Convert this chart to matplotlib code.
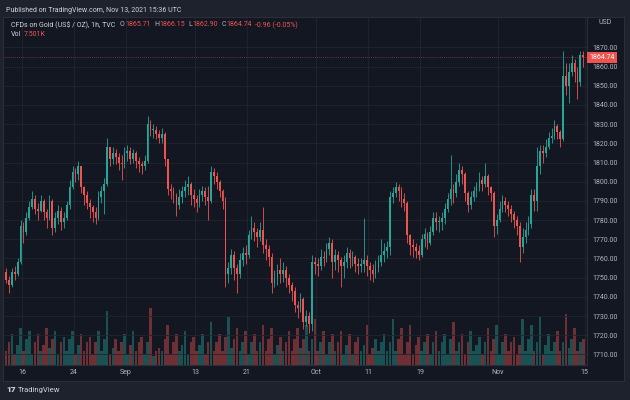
import matplotlib
matplotlib.use("Agg")
import matplotlib.pyplot as plt
import matplotlib.transforms as mtransforms
import numpy as np
import pandas as pd

plt.rcParams['font.family'] = ['Roboto', 'DejaVu Sans']

# ---------------- data (~8h bars, 3 per trading day) ----------------
session_start = '2021-08-12'
session_end = '2021-11-12'
bars_per_day = 3
first_open = 1753.0
closes = [1749, 1746, 1753, 1752, 1758, 1777, 1774, 1781, 1787, 1791, 1786, 1785,
          1790, 1784, 1781, 1790, 1776, 1781, 1785, 1779, 1781, 1788, 1797, 1805,
          1804, 1808, 1797, 1793, 1789, 1787, 1784, 1781, 1792, 1795, 1799, 1818,
          1812, 1815, 1813, 1810, 1809, 1815, 1816, 1812, 1815, 1811, 1809, 1808,
          1811, 1830, 1827, 1827, 1825, 1823, 1825, 1812, 1796, 1795, 1793, 1788,
          1792, 1795, 1797, 1799, 1793, 1791, 1789, 1793, 1795, 1792, 1790, 1805,
          1803, 1800, 1795, 1790, 1752, 1755, 1762, 1755, 1752, 1759, 1763, 1762,
          1772, 1776, 1774, 1771, 1775, 1767, 1765, 1761, 1747, 1750, 1754, 1752,
          1754, 1750, 1746, 1743, 1736, 1734, 1739, 1727, 1730, 1726, 1758, 1757,
          1756, 1761, 1760, 1765, 1768, 1758, 1762, 1759, 1756, 1758, 1763, 1760,
          1761, 1757, 1756, 1757, 1759, 1756, 1754, 1752, 1755, 1758, 1762, 1764,
          1766, 1792, 1794, 1797, 1795, 1791, 1789, 1772, 1767, 1766, 1764, 1762,
          1770, 1773, 1768, 1774, 1781, 1779, 1779, 1781, 1786, 1791, 1796, 1794,
          1800, 1806, 1804, 1794, 1788, 1792, 1795, 1797, 1801, 1799, 1803, 1797,
          1794, 1777, 1780, 1786, 1790, 1788, 1786, 1783, 1780, 1777, 1766, 1771,
          1775, 1778, 1793, 1790, 1808, 1816, 1815, 1818, 1823, 1824, 1829, 1826,
          1822, 1855, 1850, 1857, 1862, 1857, 1852, 1866, 1864.74]
highs = [1755, 1751, 1755, 1756, 1760, 1780, 1779, 1784, 1790, 1795, 1793, 1789,
         1793, 1791, 1786, 1793, 1791, 1784, 1788, 1787, 1784, 1790, 1801, 1808,
         1807, 1811, 1808, 1798, 1795, 1791, 1788, 1787, 1795, 1798, 1802, 1823,
         1818, 1818, 1817, 1815, 1814, 1818, 1819, 1818, 1817, 1816, 1813, 1811,
         1814, 1834, 1832, 1830, 1829, 1827, 1828, 1826, 1812, 1799, 1797, 1794,
         1796, 1798, 1801, 1803, 1800, 1796, 1793, 1796, 1798, 1797, 1798, 1808,
         1807, 1805, 1801, 1796, 1792, 1758, 1765, 1764, 1757, 1763, 1766, 1767,
         1775, 1782, 1779, 1776, 1779, 1787, 1770, 1767, 1763, 1754, 1757, 1760,
         1758, 1756, 1752, 1748, 1745, 1738, 1742, 1740, 1733, 1732, 1762, 1761,
         1760, 1765, 1764, 1768, 1771, 1770, 1765, 1764, 1761, 1762, 1766, 1765,
         1764, 1762, 1760, 1760, 1781, 1762, 1758, 1757, 1759, 1762, 1770, 1768,
         1769, 1795, 1797, 1800, 1799, 1797, 1794, 1790, 1773, 1770, 1768, 1767,
         1773, 1776, 1774, 1777, 1784, 1784, 1782, 1784, 1789, 1794, 1814, 1799,
         1804, 1810, 1808, 1805, 1795, 1795, 1798, 1800, 1805, 1803, 1810, 1804,
         1798, 1795, 1783, 1790, 1793, 1792, 1790, 1788, 1785, 1782, 1779, 1776,
         1779, 1782, 1796, 1796, 1818, 1819, 1819, 1822, 1826, 1828, 1832, 1830,
         1827, 1868, 1862, 1862, 1866, 1864, 1860, 1868, 1868]
lows = [1747, 1742, 1745, 1749, 1751, 1757, 1768, 1772, 1780, 1786, 1783, 1780,
        1784, 1780, 1776, 1780, 1772, 1774, 1778, 1775, 1776, 1780, 1786, 1796,
        1800, 1801, 1794, 1788, 1786, 1781, 1779, 1778, 1780, 1789, 1783, 1798,
        1808, 1809, 1809, 1806, 1801, 1807, 1811, 1809, 1810, 1807, 1805, 1804,
        1806, 1810, 1824, 1823, 1822, 1820, 1820, 1808, 1793, 1791, 1789, 1782,
        1786, 1789, 1792, 1793, 1788, 1787, 1784, 1787, 1790, 1788, 1780, 1789,
        1799, 1796, 1792, 1786, 1745, 1747, 1752, 1749, 1742, 1750, 1756, 1757,
        1760, 1770, 1769, 1766, 1769, 1763, 1759, 1756, 1742, 1745, 1746, 1747,
        1748, 1745, 1742, 1738, 1732, 1729, 1732, 1723, 1725, 1721, 1722, 1752,
        1751, 1754, 1756, 1758, 1762, 1750, 1754, 1753, 1745, 1750, 1755, 1755,
        1756, 1753, 1752, 1753, 1753, 1751, 1749, 1748, 1750, 1753, 1756, 1758,
        1760, 1762, 1789, 1792, 1790, 1787, 1785, 1768, 1762, 1761, 1760, 1759,
        1761, 1766, 1765, 1767, 1772, 1775, 1774, 1775, 1778, 1784, 1788, 1789,
        1792, 1798, 1799, 1790, 1784, 1786, 1790, 1792, 1795, 1795, 1797, 1793,
        1790, 1771, 1773, 1779, 1784, 1784, 1782, 1779, 1776, 1772, 1758, 1763,
        1768, 1772, 1776, 1785, 1785, 1804, 1810, 1813, 1817, 1820, 1822, 1822,
        1818, 1821, 1845, 1841, 1855, 1852, 1843, 1850, 1860]
volumes = [5, 8, 11, 4, 7, 13, 5, 9, 12, 4, 8, 11, 5, 7, 13, 6, 9, 12, 4, 8, 10,
           5, 9, 12, 4, 7, 11, 5, 8, 10, 4, 8, 12, 5, 9, 19, 4, 6, 9, 5, 8, 11,
           4, 7, 12, 5, 8, 10, 4, 8, 20, 3, 5, 6, 5, 9, 14, 4, 8, 11, 5, 7, 12,
           4, 8, 10, 5, 7, 11, 4, 8, 15, 5, 8, 11, 5, 10, 17, 6, 9, 13, 5, 8, 12,
           4, 8, 11, 5, 8, 14, 5, 9, 13, 4, 7, 10, 5, 8, 12, 5, 9, 13, 6, 9, 14,
           5, 9, 16, 5, 8, 12, 4, 8, 11, 5, 8, 12, 4, 7, 11, 4, 8, 10, 5, 7, 14,
           4, 6, 9, 5, 8, 11, 5, 8, 16, 5, 9, 13, 4, 8, 14, 4, 7, 10, 5, 8, 11,
           4, 8, 12, 5, 8, 11, 4, 9, 15, 5, 8, 11, 4, 8, 12, 5, 7, 10, 4, 8, 13,
           5, 9, 14, 4, 8, 11, 5, 8, 10, 4, 7, 16, 5, 9, 14, 5, 8, 17, 4, 7, 11,
           5, 8, 12, 5, 8, 18, 6, 9, 13, 5, 8, 9]
tick_dates = ['2021-08-16', '2021-08-24', '2021-09-01', '2021-09-13', '2021-09-21',
              '2021-10-01', '2021-10-11', '2021-10-19', '2021-11-01', '2021-11-15']
tick_labels = ['16', '24', 'Sep', '13', '21', 'Oct', '11', '19', 'Nov', '15']
price_ticks = list(range(1710, 1880, 10))
last_price = 1864.74

# ---------------- style ----------------
UP, DOWN = '#26a69a', '#ef5350'
OUTER_BG, PANEL_BG = '#1e222d', '#131722'
GRID, BORDER, TEXT = '#212530', '#2a2e39', '#b2b5be'
W, H = 630, 400

def fx(px):
    return px / W

def fy(py):
    return 1 - py / H

fig = plt.figure(figsize=(6.3, 4.0), dpi=100)
fig.patch.set_facecolor(OUTER_BG)
panel = fig.add_axes([fx(3), fy(381), (624 - 3) / W, (381 - 17) / H], zorder=-5)
panel.set_facecolor(PANEL_BG)
panel.set_xticks([])
panel.set_yticks([])
for s in panel.spines.values():
    s.set_color(BORDER)
    s.set_linewidth(0.8)

rect = [fx(4), fy(365), (587 - 4) / W, (365 - 18) / H]
axv = fig.add_axes(rect, zorder=1)
ax = fig.add_axes(rect, zorder=2)
axv.set_facecolor('none')
ax.patch.set_visible(False)

opens = [first_open] + closes[:-1]
o = np.array(opens, float)
c = np.array(closes, float)
hi = np.array(highs, float)
lo = np.array(lows, float)
v = np.array(volumes, float)
x = np.arange(len(c))
up = c >= o
cols = np.where(up, UP, DOWN)

xmin, xmax = -0.74, 201.3

# grid (drawn below volume)
days = pd.bdate_range(session_start, '2021-11-15')
tick_pos = [days.get_loc(pd.Timestamp(d)) * bars_per_day - 0.5 for d in tick_dates]
for tp in tick_pos:
    axv.axvline(tp, color=GRID, lw=0.6, zorder=0)

# volume
axv.bar(x, v, width=0.9, color=cols, alpha=0.42, linewidth=0, zorder=1)
axv.set_ylim(0, 122)
axv.set_xlim(xmin, xmax)
axv.axis('off')

for p in price_ticks:
    ax.axhline(p, color=GRID, lw=0.6, zorder=0)

# candles
ax.vlines(x, lo, hi, colors=cols, lw=0.6, zorder=2)
ax.bar(x, np.maximum(np.abs(c - o), 0.4), bottom=np.minimum(o, c), width=0.6,
       color=cols, linewidth=0, zorder=3)

ax.set_xlim(xmin, xmax)
ax.set_ylim(1704.5, 1885.3)

# last price line + label
ax.axhline(last_price, color=DOWN, lw=0.6, ls=(0, (1, 1.5)), alpha=0.6, zorder=1)
trans = mtransforms.blended_transform_factory(ax.transAxes, ax.transData)
ax.text(1.004, last_price, '1864.74', transform=trans, ha='left', va='center',
        fontsize=5, color='white', zorder=5,
        bbox=dict(boxstyle='square,pad=0.35', fc=DOWN, ec='none'))

# axes styling
for s in ['top', 'left']:
    ax.spines[s].set_visible(False)
ax.spines['right'].set_color(BORDER)
ax.spines['bottom'].set_color(BORDER)
ax.spines['right'].set_linewidth(0.8)
ax.spines['bottom'].set_linewidth(0.8)
ax.yaxis.tick_right()
ax.set_yticks(price_ticks)
ax.set_yticklabels([f'{p:.2f}' for p in price_ticks])
ax.set_xticks(tick_pos)
ax.set_xticklabels(tick_labels)
ax.tick_params(axis='both', length=0, colors=TEXT, labelsize=5)
ax.tick_params(axis='y', pad=4)
ax.tick_params(axis='x', pad=3)

# header & legend texts
fig.text(fx(6), fy(10), 'Published on TradingView.com, Nov 13, 2021 15:36 UTC',
         fontsize=5.0, color='#d1d4dc', va='center', ha='left')
fig.text(fx(605), fy(22), 'USD', fontsize=5, color=TEXT, va='center', ha='center')
ly = fy(25)
fig.text(fx(11), ly, 'CFDs on Gold (US$ / OZ), 1h, TVC', fontsize=5.0,
         color='#d1d4dc', va='center')
pieces = [(120, 'O', TEXT), (125, '1865.71', DOWN), (154, 'H', TEXT), (159, '1866.15', DOWN),
          (188, 'L', TEXT), (192, '1862.90', DOWN), (222, 'C', TEXT), (226, '1864.74', DOWN),
          (255, '-0.96 (-0.05%)', DOWN)]
for px, t, col in pieces:
    fig.text(fx(px), ly, t, fontsize=5.0, color=col, va='center')
fig.text(fx(11), fy(35), 'Vol', fontsize=5.0, color='#d1d4dc', va='center')
fig.text(fx(24), fy(35), '7.501K', fontsize=5.0, color=DOWN, va='center')

# footer logo
fig.text(fx(6), fy(390), '17', fontsize=6, color='#d1d4dc', va='center',
         fontweight='heavy')
fig.text(fx(18), fy(390), 'TradingView', fontsize=5.5, color='#d1d4dc', va='center')

fig.savefig('out.png', dpi=100, facecolor=fig.get_facecolor())
